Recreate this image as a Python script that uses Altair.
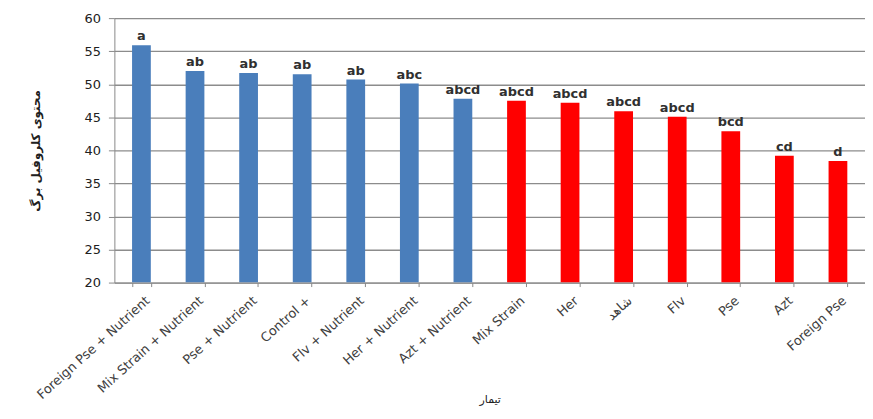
import altair as alt
import pandas as pd

categories = ["Foreign Pse + Nutrient", "Mix Strain + Nutrient", "Pse + Nutrient", "Control +",
              "Flv + Nutrient", "Her + Nutrient", "Azt + Nutrient", "Mix Strain", "Her", "شاهد",
              "Flv", "Pse", "Azt", "Foreign Pse"]
values = [55.9, 52.0, 51.7, 51.5, 50.7, 50.1, 47.8, 47.5, 47.2, 45.9, 45.1, 42.9, 39.2, 38.4]
letters = ["a", "ab", "ab", "ab", "ab", "abc", "abcd", "abcd", "abcd", "abcd", "abcd", "bcd", "cd", "d"]
groups = ["nutrient"] * 7 + ["plain"] * 7
y_ticks = [20, 25, 30, 35, 40, 45, 50, 55, 60]

df = pd.DataFrame({"cat": categories, "val": values, "lab": letters, "grp": groups})

x = alt.X("cat:N", sort=categories, title="تیمار",
          scale=alt.Scale(paddingInner=0.65, paddingOuter=0.33),
          axis=alt.Axis(labelAngle=-42, labelAlign="right", labelBaseline="middle",
                        labelFontSize=13, labelColor="#404040", labelFont="DejaVu Sans",
                        tickBand="extent", tickSize=4, tickColor="#888888",
                        domainColor="#888888", labelPadding=12, labelOffset=6, titleFontSize=11,
                        titleFont="DejaVu Sans", titleFontWeight="normal", titleColor="#202020",
                        titleY=112, titleBaseline="top", labelOverlap=False))

yscale = alt.Scale(domain=[20, 60], nice=False, zero=False)
yaxis = alt.Axis(values=y_ticks, labelFontSize=13, labelColor="#202020",
                 labelFont="DejaVu Sans", tickSize=6, tickColor="#888888", labelPadding=8,
                 domainColor="#888888", gridColor="#8c8c8c", gridWidth=1.3,
                 titleFontSize=12, titleFont="DejaVu Sans", titleFontWeight="bold",
                 titleColor="#202020", titlePadding=42, labelOverlap=False)

base = alt.Chart(df)

bars = base.mark_bar(clip=True).encode(
    x=x,
    y=alt.Y("val:Q", title="محتوی کلروفیل برگ", scale=yscale, axis=yaxis),
    y2=alt.datum(20),
    color=alt.Color("grp:N", scale=alt.Scale(domain=["nutrient", "plain"],
                                              range=["#4a7ebb", "#ff0000"]), legend=None),
)

text = base.mark_text(dy=-9, fontSize=13, fontWeight="bold", color="#303030",
                      font="DejaVu Sans").encode(
    x=alt.X("cat:N", sort=categories),
    y=alt.Y("val:Q", scale=yscale, axis=yaxis, title="محتوی کلروفیل برگ"),
    text="lab:N",
)

chart = (bars + text).properties(
    width=755, height=266,
    autosize=alt.AutoSizeParams(type="none"),
    padding={"left": 107, "top": 9, "right": 0, "bottom": 130},
).configure_view(stroke=None).configure_axisX(grid=False)

chart.save("out.html", embed_options={"renderer": "svg", "actions": False})
